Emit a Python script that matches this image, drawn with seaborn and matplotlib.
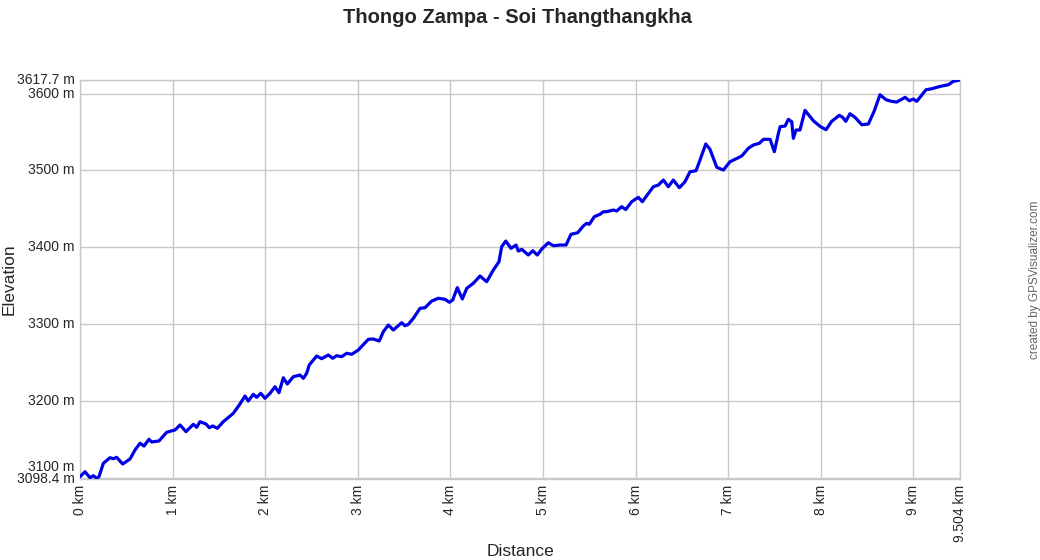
import matplotlib
matplotlib.use("Agg")
import matplotlib.pyplot as plt
import matplotlib.transforms as mtransforms
import seaborn as sns
import pandas as pd

# track profile
distance_km = [
    0.000, 0.054, 0.108, 0.144, 0.180, 0.205, 0.252, 0.324, 0.360, 0.396,
    0.461, 0.540, 0.594, 0.648, 0.691, 0.745, 0.774, 0.853, 0.936, 1.026,
    1.080, 1.145, 1.224, 1.260, 1.296, 1.361, 1.396, 1.433, 1.483, 1.548,
    1.656, 1.720, 1.782, 1.817, 1.872, 1.908, 1.952, 1.998, 2.052, 2.106,
    2.149, 2.196, 2.239, 2.304, 2.376, 2.412, 2.448, 2.476, 2.556, 2.610,
    2.682, 2.729, 2.772, 2.826, 2.880, 2.934, 3.006, 3.114, 3.168, 3.232,
    3.276, 3.330, 3.384, 3.474, 3.510, 3.546, 3.600, 3.672, 3.726, 3.798,
    3.870, 3.942, 3.989, 4.025, 4.075, 4.129, 4.177, 4.248, 4.320, 4.392,
    4.464, 4.525, 4.554, 4.598, 4.655, 4.709, 4.734, 4.771, 4.842, 4.890,
    4.939, 4.987, 5.058, 5.112, 5.184, 5.249, 5.303, 5.375, 5.436, 5.472,
    5.500, 5.555, 5.616, 5.652, 5.688, 5.760, 5.796, 5.850, 5.894, 5.958,
    6.030, 6.073, 6.192, 6.246, 6.300, 6.354, 6.408, 6.473, 6.534, 6.588,
    6.653, 6.696, 6.758, 6.804, 6.877, 6.948, 7.020, 7.074, 7.147, 7.218,
    7.272, 7.337, 7.381, 7.453, 7.499, 7.543, 7.561, 7.615, 7.650, 7.687,
    7.704, 7.733, 7.776, 7.830, 7.920, 7.992, 8.057, 8.118, 8.201, 8.237,
    8.270, 8.316, 8.370, 8.443, 8.514, 8.576, 8.640, 8.705, 8.767, 8.821,
    8.911, 8.957, 9.000, 9.037, 9.137, 9.199, 9.289, 9.378, 9.432, 9.504,
]
elevation_m = [
    3101.4, 3107.9, 3100.1, 3102.7, 3099.3, 3101.4, 3118.8, 3126.1, 3124.8, 3126.6,
    3117.9, 3124.4, 3136.1, 3144.9, 3141.3, 3150.1, 3146.6, 3147.9, 3159.2, 3162.2,
    3168.7, 3160.0, 3169.6, 3165.7, 3173.0, 3170.0, 3165.2, 3167.4, 3164.4, 3173.0,
    3183.9, 3194.7, 3206.4, 3199.9, 3208.6, 3204.7, 3209.9, 3203.4, 3209.9, 3218.5,
    3210.7, 3230.2, 3222.0, 3231.5, 3233.7, 3229.4, 3236.0, 3246.8, 3258.5, 3255.0,
    3259.8, 3255.5, 3258.9, 3257.6, 3262.0, 3260.7, 3266.3, 3280.2, 3280.6, 3278.0,
    3290.1, 3298.8, 3292.3, 3301.8, 3297.9, 3299.7, 3307.5, 3320.5, 3321.3, 3330.0,
    3333.6, 3332.3, 3328.4, 3331.3, 3347.4, 3332.7, 3346.6, 3353.1, 3362.6, 3355.2,
    3370.4, 3381.2, 3400.7, 3408.1, 3398.6, 3402.9, 3395.1, 3397.3, 3389.9, 3395.5,
    3389.9, 3397.7, 3405.9, 3402.0, 3402.9, 3402.9, 3416.9, 3418.9, 3427.7, 3431.2,
    3429.9, 3439.8, 3442.9, 3446.3, 3446.3, 3448.5, 3447.2, 3452.8, 3449.1, 3459.3,
    3465.0, 3459.3, 3478.8, 3481.0, 3487.5, 3478.8, 3487.5, 3477.5, 3485.3, 3498.3,
    3499.6, 3513.5, 3534.4, 3527.5, 3504.1, 3500.5, 3511.3, 3514.5, 3518.8, 3528.8,
    3533.1, 3535.3, 3540.5, 3540.5, 3524.4, 3548.3, 3556.9, 3557.8, 3566.5, 3563.4,
    3541.8, 3552.6, 3552.6, 3578.2, 3564.7, 3557.4, 3553.0, 3563.9, 3571.7, 3569.1,
    3563.9, 3573.8, 3569.1, 3559.5, 3560.4, 3576.9, 3598.5, 3592.0, 3589.9, 3589.0,
    3595.1, 3590.7, 3592.9, 3589.9, 3605.0, 3606.3, 3609.4, 3611.5, 3615.9, 3617.7,
]

x_ticks = [0, 1, 2, 3, 4, 5, 6, 7, 8, 9, 9.504]
x_labels = ["0 km", "1 km", "2 km", "3 km", "4 km", "5 km", "6 km", "7 km",
            "8 km", "9 km", "9.504 km"]
y_ticks = [3098.4, 3100, 3200, 3300, 3400, 3500, 3600, 3617.7]
y_labels = ["3098.4 m", "3100 m", "3200 m", "3300 m", "3400 m", "3500 m",
            "3600 m", "3617.7 m"]

sns.set_style("white")
plt.rcParams['font.family'] = ['Liberation Sans', 'DejaVu Sans']

df = pd.DataFrame({"Distance": distance_km, "Elevation": elevation_m})

fig = plt.figure(figsize=(10.4, 5.6), dpi=100)
ax = fig.add_axes([80 / 1040, 81 / 560, 880 / 1040, 399 / 560])

sns.lineplot(data=df, x="Distance", y="Elevation", ax=ax, color="#0000e6",
             linewidth=2.3, estimator=None, sort=False, zorder=3)

ax.set_xlim(0, 9.504)
ax.set_ylim(3098.4, 3617.7)
ax.set_xticks(x_ticks)
ax.set_xticklabels(x_labels, rotation=90, fontsize=10)
ax.set_yticks(y_ticks)
ax.set_yticklabels(y_labels, fontsize=10)
ax.tick_params(axis="both", length=0, pad=4)

# the 3100 m label is nudged up so it clears the 3098.4 m one
for lbl in ax.get_yticklabels():
    lbl.set_verticalalignment("center")
    if lbl.get_text() == "3100 m":
        lbl.set_transform(lbl.get_transform() + mtransforms.ScaledTranslation(
            0, 11 / 100, fig.dpi_scale_trans))

ax.grid(True, color="#c8c8c8", linewidth=1)
for s in ax.spines.values():
    s.set_color("#c8c8c8")
    s.set_linewidth(1)

ax.set_xlabel("Distance", fontsize=12.5)
ax.set_ylabel("Elevation", fontsize=12.5)
ax.xaxis.set_label_coords(0.5, -0.163)
ax.yaxis.set_label_coords(-0.0716, 0.5)

fig.suptitle("Thongo Zampa - Soi Thangthangkha", fontsize=14.5,
             fontweight="bold", x=0.498, y=0.985)
fig.text(0.9952, 0.5, "created by GPSVisualizer.com", rotation=90,
         fontsize=8.5, color="#666666", ha="center", va="center")

fig.savefig("out.png", dpi=100)
